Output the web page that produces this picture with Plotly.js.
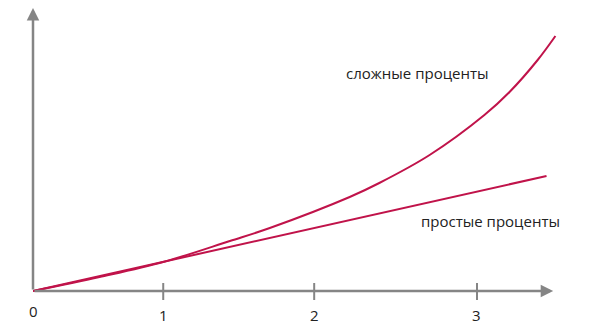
<!DOCTYPE html>
<html>
<head>
<meta charset="utf-8">
<script src="https://cdn.plot.ly/plotly-3.0.1.min.js"></script>
<style>html,body{margin:0;padding:0;background:#fff}#chart{width:591px;height:335px}</style>
</head>
<body>
<div id="chart"></div>
<script>
// Time axis (schematic units) and accumulated interest (schematic units)
const simpleX = [0, 3.47];
const simpleY = [0, 115];
const compoundX = [0, 0.45, 0.88, 1.33, 1.60, 2.14, 2.34, 2.68, 3.05, 3.22, 3.41, 3.53];
const compoundY = [0, 14, 29, 50, 63, 94, 108, 136, 176, 199, 231, 255];
const tickPositions = [0.88, 1.90, 3.0];
const tickLabels = ["1", "2", "3"];
const originLabel = "0";
const labelCompound = "сложные проценты";
const labelSimple = "простые проценты";

const lineColor = "#c0134a";
const axisColor = "#858585";
const textColor = "#222222";
const font = "Open Sans, Noto Sans, sans-serif";

const traces = [
  {x: simpleX, y: simpleY, mode: "lines", line: {color: lineColor, width: 2}, hoverinfo: "skip"},
  {x: compoundX, y: compoundY, mode: "lines", line: {color: lineColor, width: 2, shape: "spline", smoothing: 1}, hoverinfo: "skip"}
];

const shapes = tickPositions.map(v => ({
  type: "line", xref: "x", yref: "y", x0: v, x1: v, y0: -9, y1: 8,
  line: {color: axisColor, width: 2}
}));

const annotations = [
  // y axis with arrow
  {x: 0, y: 283, ax: 0, ay: 0, xref: "x", yref: "y", axref: "x", ayref: "y",
   showarrow: true, arrowhead: 2, arrowsize: 1, arrowwidth: 2.5, arrowcolor: axisColor, text: "", standoff: 0},
  // x axis with arrow
  {x: 3.515, y: 0, ax: 0, ay: 0, xref: "x", yref: "y", axref: "x", ayref: "y",
   showarrow: true, arrowhead: 2, arrowsize: 1, arrowwidth: 2.5, arrowcolor: axisColor, text: "", standoff: 0},
  {x: 0, y: -20, xref: "x", yref: "y", text: originLabel, showarrow: false,
   font: {family: font, size: 15, color: textColor}, xanchor: "center", yanchor: "middle"},
  {x: 2.60, y: 218, xref: "x", yref: "y", text: labelCompound, showarrow: false,
   font: {family: font, size: 15, color: textColor}, xanchor: "center", yanchor: "middle"},
  {x: 3.09, y: 70, xref: "x", yref: "y", text: labelSimple, showarrow: false,
   font: {family: font, size: 15, color: textColor}, xanchor: "center", yanchor: "middle"}
].concat(tickPositions.map((v, i) => ({
  x: v, y: -24, xref: "x", yref: "y", text: tickLabels[i], showarrow: false,
  font: {family: font, size: 15, color: textColor}, xanchor: "center", yanchor: "middle"
})));

const layout = {
  width: 591, height: 335,
  margin: {l: 33, r: 31, t: 8, b: 0, pad: 0},
  paper_bgcolor: "#ffffff", plot_bgcolor: "#ffffff",
  showlegend: false,
  xaxis: {range: [0, 3.561], visible: false, fixedrange: true},
  yaxis: {range: [-44, 283], visible: false, fixedrange: true},
  shapes: shapes,
  annotations: annotations
};

Plotly.newPlot("chart", traces, layout, {staticPlot: true, displayModeBar: false});
</script>
</body>
</html>
